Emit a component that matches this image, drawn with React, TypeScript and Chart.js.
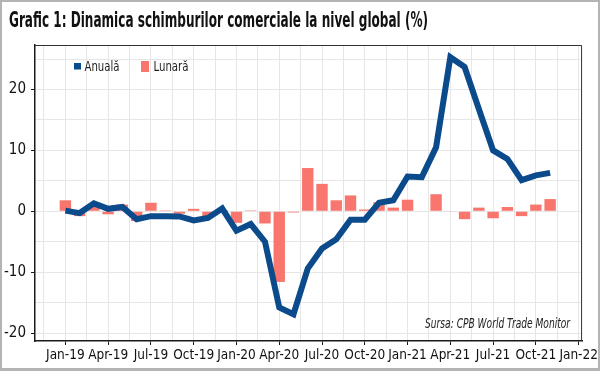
import React, { useEffect, useRef } from 'react';
import { Chart, registerables } from 'chart.js';

Chart.register(...registerables);

// ---------- data ----------
const months = [
  'Jan-19', 'Feb-19', 'Mar-19', 'Apr-19', 'May-19', 'Jun-19', 'Jul-19', 'Aug-19', 'Sep-19', 'Oct-19', 'Nov-19', 'Dec-19',
  'Jan-20', 'Feb-20', 'Mar-20', 'Apr-20', 'May-20', 'Jun-20', 'Jul-20', 'Aug-20', 'Sep-20', 'Oct-20', 'Nov-20', 'Dec-20',
  'Jan-21', 'Feb-21', 'Mar-21', 'Apr-21', 'May-21', 'Jun-21', 'Jul-21', 'Aug-21', 'Sep-21', 'Oct-21', 'Nov-21',
];
const annual = [
  0.1, -0.3, 1.3, 0.4, 0.7, -1.3, -0.8, -0.8, -0.85, -1.5, -1.1, 0.45,
  -3.2, -2.1, -5.0, -15.8, -16.9, -9.4, -6.1, -4.6, -1.4, -1.4, 1.4, 1.8,
  5.7, 5.6, 10.5, 25.3, 23.7, 16.8, 10.0, 8.6, 5.1, 5.9, 6.3,
];
const monthly = [
  1.8, -0.8, 0.7, -0.5, 1.1, -1.6, 1.4, 0.15, -0.4, 0.4, -0.8, 0.2,
  -1.9, 0.15, -2.0, -11.6, -0.2, 7.1, 4.5, 1.8, 2.6, 0.3, 1.5, 0.6,
  1.9, 0.0, 2.8, -0.1, -1.3, 0.6, -1.15, 0.7, -0.8, 1.1, 2.0,
];
const xTickLabels = ['Jan-19', 'Apr-19', 'Jul-19', 'Oct-19', 'Jan-20', 'Apr-20', 'Jul-20', 'Oct-20', 'Jan-21', 'Apr-21', 'Jul-21', 'Oct-21', 'Jan-22'];
const yGridValues = [-20, -15, -10, -5, 0, 5, 10, 15, 20, 25];
const yTickLabels = ['-20', '-10', '0', '10', '20'];
const seriesNames = ['Anuală', 'Lunară'];
const titleText = 'Grafic 1: Dinamica schimburilor comerciale la nivel global (%)';
const sourceText = 'Sursa: CPB World Trade Monitor';

// ---------- styles ----------
const COND = '"Liberation Sans Narrow", "DejaVu Sans Condensed", "Roboto Condensed", "Liberation Sans", sans-serif';
const BLUE = '#0b4a8b';
const SALMON = '#f8766d';
const GRID = '#e6e6e6';
const AXIS = '#1a1a1a';

function drawFitted(ctx: CanvasRenderingContext2D, text: string, x: number, y: number, maxW: number, align: 'left' | 'right') {
  const w = ctx.measureText(text).width;
  const sx = w > maxW ? maxW / w : 1;
  ctx.save();
  ctx.translate(x, y);
  ctx.scale(sx, 1);
  ctx.textAlign = 'left';
  ctx.fillText(text, align === 'left' ? 0 : -w, 0);
  ctx.restore();
}

const decorPlugin = {
  id: 'decor',
  beforeDraw(chart: any) {
    const ctx = chart.ctx;
    ctx.save();
    ctx.fillStyle = '#ffffff';
    ctx.fillRect(0, 0, chart.width, chart.height);
    ctx.restore();
  },
  afterDraw(chart: any) {
    const ctx: CanvasRenderingContext2D = chart.ctx;
    const a = chart.chartArea;
    ctx.save();
    // top and right panel border
    ctx.strokeStyle = '#333333';
    ctx.lineWidth = 1;
    ctx.beginPath();
    ctx.moveTo(a.left, a.top + 0.5);
    ctx.lineTo(a.right - 0.5, a.top + 0.5);
    ctx.lineTo(a.right - 0.5, a.bottom);
    ctx.stroke();

    // title
    ctx.fillStyle = '#111111';
    ctx.textBaseline = 'alphabetic';
    ctx.font = `bold 21px ${COND}`;
    drawFitted(ctx, titleText, 9, 27, 419, 'left');

    // legend
    const ds = chart.data.datasets;
    ctx.font = `14px ${COND}`;
    ctx.fillStyle = ds[0].borderColor;
    ctx.fillRect(a.left + 39, a.top + 18, 7, 6.5);
    ctx.fillStyle = '#222222';
    drawFitted(ctx, ds[0].label, a.left + 49.5, a.top + 26, 35, 'left');
    ctx.fillStyle = ds[1].backgroundColor;
    ctx.fillRect(a.left + 106, a.top + 16, 8, 11);
    ctx.fillStyle = '#222222';
    drawFitted(ctx, ds[1].label, a.left + 118.5, a.top + 26, 35, 'left');

    // source
    ctx.font = `italic 14px ${COND}`;
    ctx.fillStyle = '#222222';
    drawFitted(ctx, sourceText, a.right - 12, a.bottom - 13, 145, 'right');
    ctx.restore();
  },
};

export default function App() {
  const ref = useRef<HTMLCanvasElement | null>(null);

  useEffect(() => {
    if (!ref.current) return;
    const lineData = annual.map((v, i) => ({ x: i, y: v }));
    const barData = monthly.map((v, i) => ({ x: i, y: v }));

    const chart = new Chart(ref.current, {
      type: 'bar',
      data: {
        labels: months,
        datasets: [
          {
            type: 'line',
            label: seriesNames[0],
            data: lineData as any,
            borderColor: BLUE,
            backgroundColor: BLUE,
            borderWidth: 6,
            pointRadius: 0,
            tension: 0,
            order: 0,
          } as any,
          {
            type: 'bar',
            label: seriesNames[1],
            data: barData as any,
            backgroundColor: SALMON,
            borderWidth: 0,
            barPercentage: 1,
            categoryPercentage: 0.8,
            order: 1,
          } as any,
        ],
      },
      options: {
        responsive: false,
        animation: false,
        devicePixelRatio: 1,
        layout: { padding: { top: 45, left: 2, right: 11, bottom: 2 } },
        plugins: {
          legend: { display: false },
          title: { display: false },
          tooltip: { enabled: false },
        },
        scales: {
          x: {
            type: 'linear',
            offset: false,
            min: -2.13,
            max: 36.24,
            afterBuildTicks: (scale: any) => {
              const t: any[] = [];
              for (let k = -1; k <= 2 * (xTickLabels.length - 1); k++) t.push({ value: k * 1.5 });
              scale.ticks = t;
            },
            afterFit: (scale: any) => {
              scale.height = 28;
            },
            grid: {
              offset: false,
              color: GRID,
              lineWidth: 1,
              tickLength: 4,
              tickColor: (c: any) => (c.tick && c.tick.value % 3 === 0 ? AXIS : 'rgba(0,0,0,0)'),
            },
            border: { color: AXIS, width: 1.5 },
            ticks: {
              autoSkip: false,
              maxRotation: 0,
              minRotation: 0,
              padding: 2,
              color: '#111111',
              font: { family: COND, size: 13.5 },
              callback: (v: any) => (Number(v) % 3 === 0 ? xTickLabels[Number(v) / 3] ?? '' : ''),
            },
          },
          y: {
            type: 'linear',
            min: -21.3,
            max: 27.3,
            afterBuildTicks: (scale: any) => {
              scale.ticks = yGridValues.map((v) => ({ value: v }));
            },
            afterFit: (scale: any) => {
              scale.width = 33;
            },
            grid: {
              color: GRID,
              lineWidth: 1,
              tickLength: 4,
              tickColor: (c: any) => (c.tick && c.tick.value % 10 === 0 ? AXIS : 'rgba(0,0,0,0)'),
            },
            border: { color: AXIS, width: 1.5 },
            ticks: {
              padding: 5,
              color: '#111111',
              font: { family: COND, size: 15 },
              callback: (v: any) => {
                const s = String(v);
                return yTickLabels.includes(s) ? s : '';
              },
            },
          },
        },
      },
      plugins: [decorPlugin],
    } as any);

    return () => chart.destroy();
  }, []);

  return (
    <div style={{ position: 'fixed', left: 0, top: 0, width: 600, height: 371, background: '#fff' }}>
      <canvas ref={ref} width={600} height={371} style={{ display: 'block', width: 600, height: 371 }} />
      <div
        style={{
          position: 'absolute',
          left: 0,
          top: 0,
          width: 600,
          height: 371,
          boxSizing: 'border-box',
          border: '2px solid #b4b4b4',
          borderBottomWidth: 3,
          pointerEvents: 'none',
        }}
      />
    </div>
  );
}
